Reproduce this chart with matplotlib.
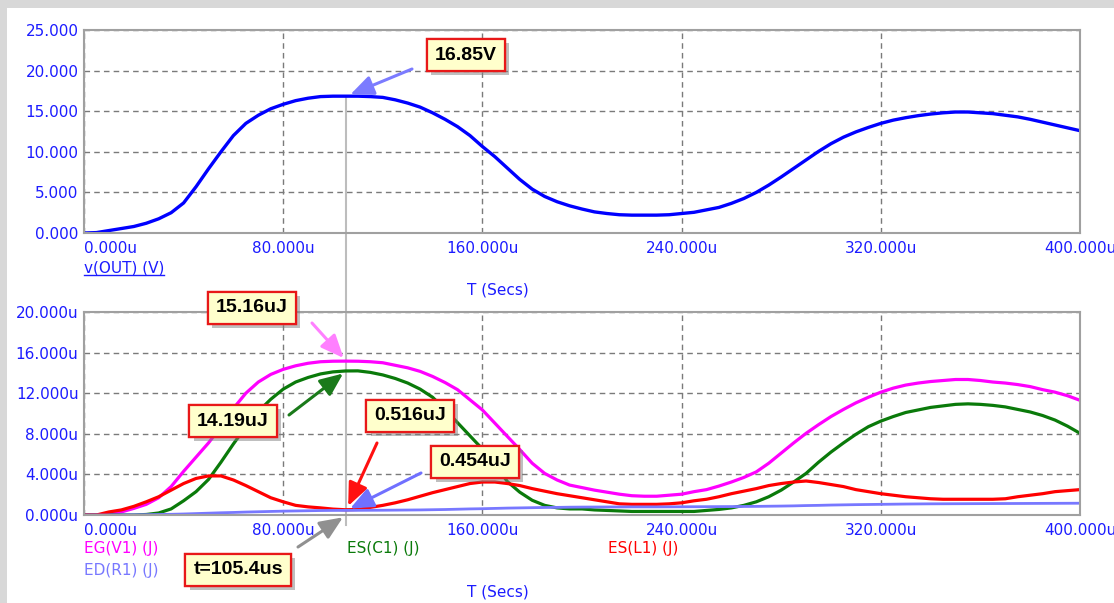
import matplotlib
matplotlib.use('Agg')
import matplotlib.pyplot as plt
import matplotlib.patheffects as pe
import matplotlib.transforms as mtransforms
from matplotlib.patches import Rectangle
from matplotlib.lines import Line2D

plt.rcParams['font.family'] = 'DejaVu Sans'

# transient samples, time in microseconds
t_us = [0, 5, 10, 15, 20, 25, 30, 35, 40, 45,
        50, 55, 60, 65, 70, 75, 80, 85, 90, 95,
        100, 105, 110, 115, 120, 125, 130, 135, 140, 145,
        150, 155, 160, 165, 170, 175, 180, 185, 190, 195,
        200, 205, 210, 215, 220, 225, 230, 235, 240, 245,
        250, 255, 260, 265, 270, 275, 280, 285, 290, 295,
        300, 305, 310, 315, 320, 325, 330, 335, 340, 345,
        350, 355, 360, 365, 370, 375, 380, 385, 390, 395, 400]

# v(OUT) in volts
v_out = [0.0, 0.05, 0.3, 0.55, 0.8, 1.2, 1.75, 2.5, 3.7, 5.7,
         7.9, 10.0, 12.0, 13.5, 14.5, 15.3, 15.85, 16.3, 16.6, 16.8,
         16.85, 16.85, 16.85, 16.8, 16.7, 16.4, 16.0, 15.5, 14.8, 14.0,
         13.1, 12.0, 10.65, 9.4, 8.0, 6.6, 5.4, 4.5, 3.85, 3.35,
         2.95, 2.6, 2.4, 2.25, 2.2, 2.2, 2.2, 2.25, 2.4, 2.55,
         2.85, 3.15, 3.65, 4.25, 5.0, 5.9, 6.9, 7.95, 9.0, 10.05,
         11.0, 11.8, 12.45, 13.0, 13.5, 13.9, 14.2, 14.45, 14.65, 14.8,
         14.9, 14.9, 14.8, 14.7, 14.5, 14.3, 14.0, 13.65, 13.3, 12.95, 12.6]

# energies in uJ
eg_v1 = [0.0, 0.0, 0.1, 0.3, 0.65, 1.05, 1.7, 2.8, 4.3, 5.7,
         7.1, 8.7, 10.5, 12.0, 13.1, 13.85, 14.35, 14.7, 14.95, 15.1,
         15.15, 15.16, 15.15, 15.1, 15.0, 14.75, 14.5, 14.15, 13.65, 13.05,
         12.35, 11.35, 10.35, 9.05, 7.75, 6.45, 5.1, 4.1, 3.45, 2.95,
         2.7, 2.45, 2.25, 2.05, 1.9, 1.85, 1.85, 1.95, 2.05, 2.3,
         2.5, 2.85, 3.25, 3.7, 4.25, 5.1, 6.1, 7.1, 8.05, 8.9,
         9.7, 10.4, 11.05, 11.6, 12.1, 12.5, 12.8, 13.0, 13.15, 13.25,
         13.35, 13.35, 13.25, 13.1, 13.0, 12.85, 12.65, 12.35, 12.1, 11.75, 11.3]
es_c1 = [0.0, 0.0, 0.0, 0.0, 0.0, 0.05, 0.2, 0.6, 1.4, 2.3,
         3.5, 5.2, 7.0, 8.7, 10.2, 11.4, 12.4, 13.1, 13.55, 13.9,
         14.1, 14.19, 14.2, 14.05, 13.8, 13.45, 13.0, 12.4, 11.6, 10.4,
         9.1, 7.8, 6.5, 5.0, 3.3, 2.25, 1.45, 0.95, 0.7, 0.6,
         0.6, 0.5, 0.45, 0.4, 0.35, 0.35, 0.35, 0.35, 0.35, 0.35,
         0.45, 0.55, 0.7, 0.95, 1.3, 1.8, 2.45, 3.25, 4.1, 5.2,
         6.2, 7.1, 7.95, 8.7, 9.25, 9.7, 10.1, 10.35, 10.6, 10.75,
         10.9, 10.95, 10.9, 10.8, 10.65, 10.4, 10.15, 9.8, 9.35, 8.75, 8.05]
es_l1 = [0.0, 0.0, 0.3, 0.5, 0.85, 1.3, 1.8, 2.45, 3.1, 3.6,
         3.85, 3.85, 3.45, 2.9, 2.3, 1.7, 1.3, 0.95, 0.8, 0.7,
         0.58, 0.516, 0.55, 0.75, 0.95, 1.2, 1.5, 1.85, 2.2, 2.5,
         2.8, 3.1, 3.25, 3.25, 3.1, 2.9, 2.6, 2.35, 2.1, 1.9,
         1.7, 1.5, 1.3, 1.1, 1.05, 1.05, 1.05, 1.1, 1.2, 1.4,
         1.55, 1.8, 2.1, 2.35, 2.6, 2.9, 3.1, 3.25, 3.35, 3.2,
         3.0, 2.8, 2.5, 2.3, 2.1, 1.95, 1.8, 1.7, 1.6, 1.55,
         1.55, 1.55, 1.55, 1.55, 1.6, 1.8, 1.95, 2.1, 2.3, 2.4, 2.5]
ed_r1 = [0.0, 0.0, 0.0, 0.01, 0.02, 0.03, 0.05, 0.07, 0.1, 0.14,
         0.18, 0.22, 0.25, 0.29, 0.32, 0.35, 0.38, 0.4, 0.42, 0.44,
         0.45, 0.454, 0.46, 0.465, 0.47, 0.48, 0.49, 0.5, 0.52, 0.54,
         0.57, 0.6, 0.62, 0.65, 0.68, 0.7, 0.72, 0.74, 0.75, 0.77,
         0.78, 0.785, 0.79, 0.795, 0.8, 0.8, 0.8, 0.805, 0.81, 0.815,
         0.82, 0.825, 0.83, 0.84, 0.85, 0.865, 0.88, 0.9, 0.93, 0.95,
         0.98, 1.0, 1.02, 1.035, 1.05, 1.065, 1.08, 1.09, 1.1, 1.105,
         1.11, 1.115, 1.12, 1.125, 1.13, 1.135, 1.14, 1.145, 1.15, 1.155, 1.16]

# cursor readout
cursor_t = 105.4
cursor_v = 16.85
cursor_eg = 15.16
cursor_es_c1 = 14.19
cursor_es_l1 = 0.516
cursor_ed_r1 = 0.454

x_ticks = [0, 80, 160, 240, 320, 400]
top_yticks = [0, 5, 10, 15, 20, 25]
bot_yticks = [0, 4, 8, 12, 16, 20]

W, H = 1114, 603
LBL = '#1c1cff'

fig = plt.figure(figsize=(W / 100, H / 100), dpi=100, facecolor='#d8d8d8')
fig.add_artist(Rectangle((7 / W, 0), 1, 1 - 8 / H, transform=fig.transFigure,
                         facecolor='white', edgecolor='none', zorder=-3))

ax_top = fig.add_axes([84 / W, 1 - 233 / H, 996 / W, 203 / H])
ax_bot = fig.add_axes([84 / W, 1 - 515 / H, 996 / W, 203 / H])


def style_axes(ax, yticks, yfmt):
    ax.set_facecolor('none')
    ax.set_xlim(0, 400)
    ax.set_ylim(yticks[0], yticks[-1])
    ax.set_xticks(x_ticks)
    ax.set_xticklabels(['{:.3f}u'.format(x) for x in x_ticks])
    ax.set_yticks(yticks)
    ax.set_yticklabels([yfmt.format(y) for y in yticks])
    ax.tick_params(length=0, labelsize=11, labelcolor=LBL)
    ax.tick_params(axis='y', pad=4)
    ax.tick_params(axis='x', pad=6)
    ax.grid(True, color='#7a7a7a', linestyle=(0, (4, 3)), linewidth=1.0)
    for s in ax.spines.values():
        s.set_color('#a0a0a0')
        s.set_linewidth(1.5)
    ax.get_xticklabels()[0].set_ha('left')


style_axes(ax_top, top_yticks, '{:.3f}')
style_axes(ax_bot, bot_yticks, '{:.3f}u')

ax_top.plot(t_us, v_out, color='#0000ff', lw=2.4)

ax_bot.plot(t_us, eg_v1, color='#ff00ff', lw=2.3)
ax_bot.plot(t_us, es_c1, color='#0a7a0a', lw=2.3)
ax_bot.plot(t_us, es_l1, color='#ff0000', lw=2.3)
ax_bot.plot(t_us, ed_r1, color='#7878ff', lw=2.0)

# cursor line through both plots
trans = mtransforms.blended_transform_factory(ax_bot.transData, fig.transFigure)
fig.add_artist(Line2D([cursor_t, cursor_t], [1 - 98 / H, 1 - 525 / H], transform=trans,
                      color='#bdbdbd', lw=1.5, zorder=-1))

# trace names and axis titles
vlab = fig.text(84 / W, 1 - 268 / H, 'v(OUT) (V)', color=LBL, fontsize=11,
                ha='left', va='center')
fig.text(498 / W, 1 - 290 / H, 'T (Secs)', color=LBL, fontsize=11, ha='center', va='center')
fig.text(498 / W, 1 - 592 / H, 'T (Secs)', color=LBL, fontsize=11, ha='center', va='center')
fig.text(84 / W, 1 - 549 / H, 'EG(V1) (J)', color='#ff00ff', fontsize=11, ha='left', va='center')
fig.text(84 / W, 1 - 571 / H, 'ED(R1) (J)', color='#7878ff', fontsize=11, ha='left', va='center')
fig.text(347 / W, 1 - 549 / H, 'ES(C1) (J)', color='#0a7a0a', fontsize=11, ha='left', va='center')
fig.text(608 / W, 1 - 549 / H, 'ES(L1) (J)', color='#ff0000', fontsize=11, ha='left', va='center')

r = fig.canvas.get_renderer()
bb = vlab.get_window_extent(r)
fig.add_artist(Line2D([bb.x0, bb.x1], [bb.y0 + 1, bb.y0 + 1],
                      transform=mtransforms.IdentityTransform(), color=LBL, lw=1))

# callouts: label, box centre (px), arrow start (px), axes, value, colour
callouts = [
    ('16.85V', (466, 55), (412, 69), ax_top, cursor_v, '#7b7bff'),
    ('15.16uJ', (252, 308), (312, 323), ax_bot, cursor_eg, '#ff80ff'),
    ('14.19uJ', (233, 421), (289, 415), ax_bot, cursor_es_c1, '#1a7a1a'),
    ('0.516uJ', (410, 416), (377, 443), ax_bot, cursor_es_l1, '#ff1010'),
    ('0.454uJ', (475, 462), (421, 473), ax_bot, cursor_ed_r1, '#7070ff'),
    ('t=105.4us', (238, 570), (298, 547), ax_bot, 0.0, '#909090'),
]

for label, (cx, cy), (sx, sy), ax, val, col in callouts:
    ax.annotate('', xy=(cursor_t, val), xycoords='data',
                xytext=(sx, H - sy), textcoords='figure pixels',
                arrowprops=dict(arrowstyle='-|>,head_length=0.7,head_width=0.3',
                                color=col, lw=2.2, shrinkA=0, shrinkB=3,
                                mutation_scale=20),
                annotation_clip=False)
    txt = fig.text(cx / W, 1 - cy / H, label, ha='center', va='center',
                   fontsize=14, fontweight='bold', family='Liberation Sans',
                   color='black', zorder=5,
                   bbox=dict(boxstyle='square,pad=0.4', fc='#ffffcc',
                             ec='#e81818', lw=1.6))
    txt.get_bbox_patch().set_path_effects([
        pe.withSimplePatchShadow(offset=(3, -3), shadow_rgbFace='#808080', alpha=0.5),
        pe.Normal()])

fig.savefig('out.png', dpi=100)
